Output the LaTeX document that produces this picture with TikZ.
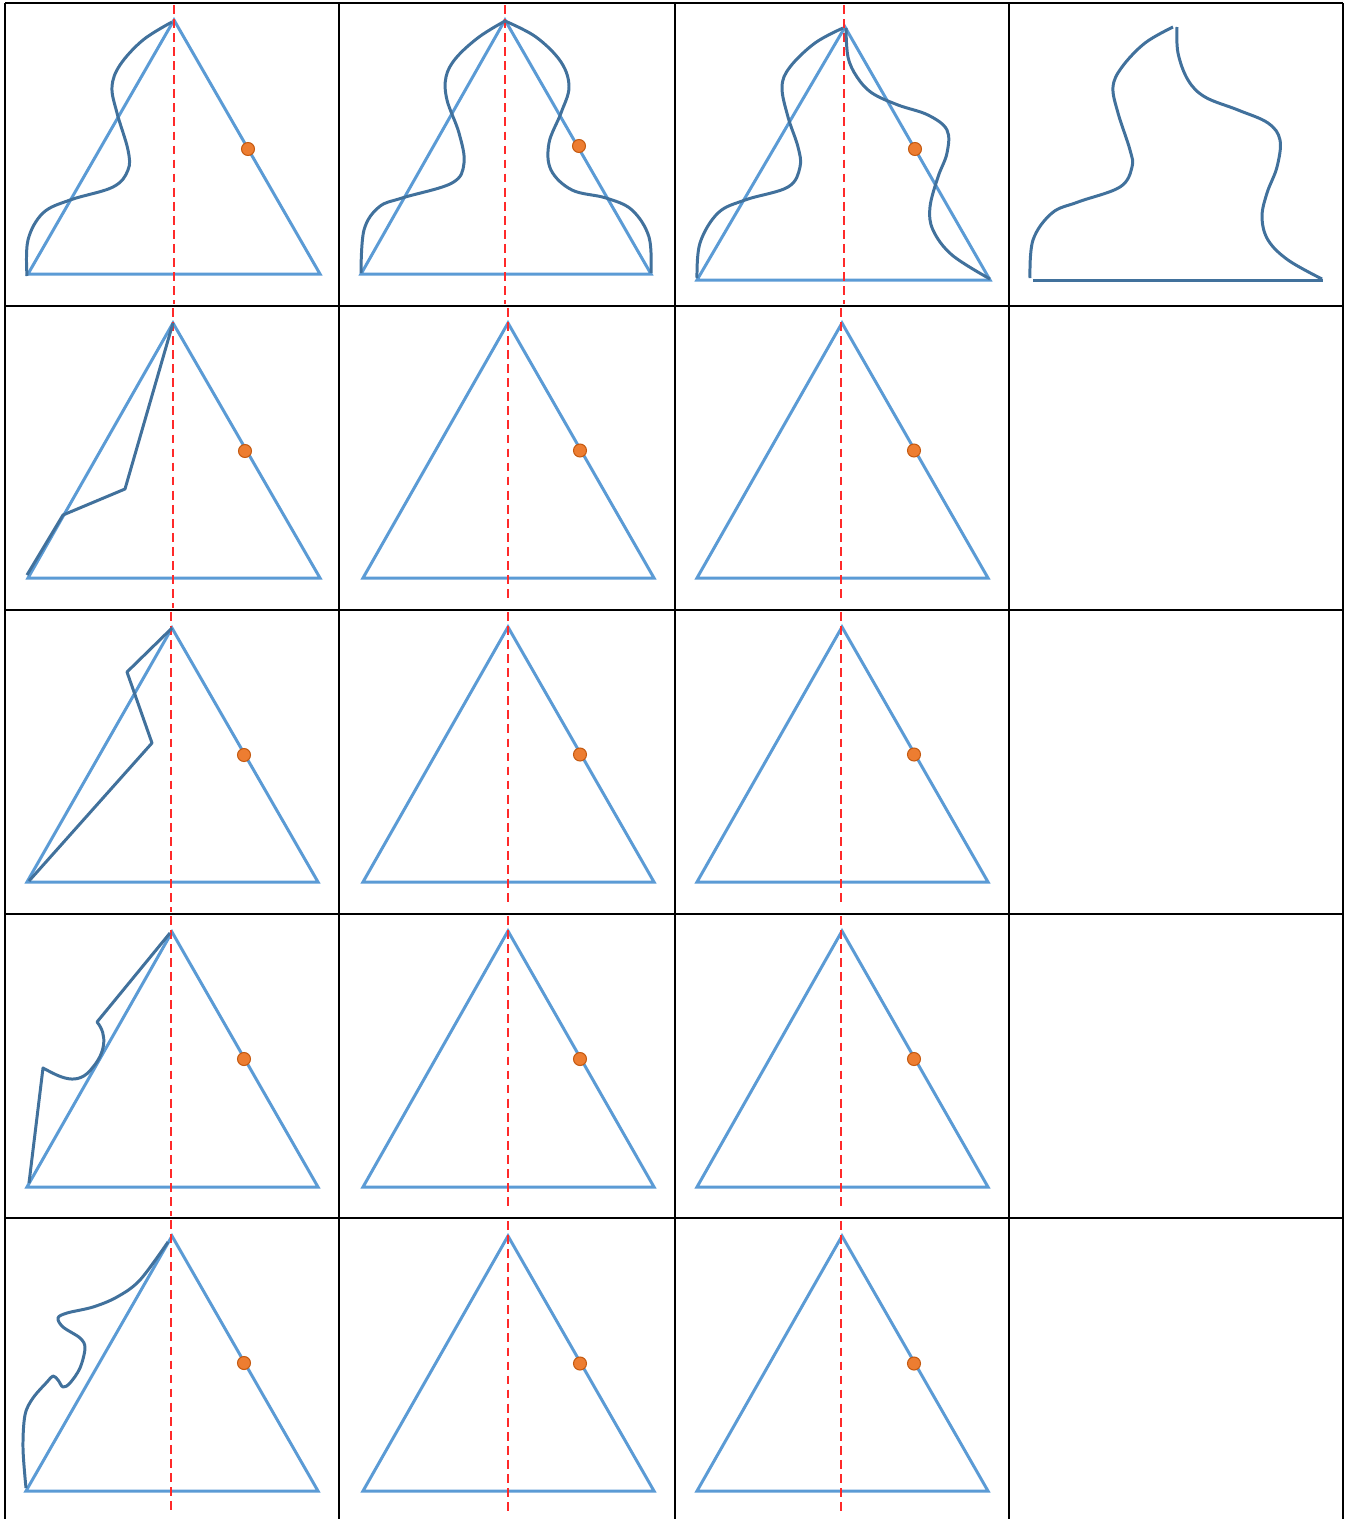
\documentclass[tikz,border=0pt]{standalone}
\usepackage{xcolor}
\usepackage{tikz}
\definecolor{trianglueblue}{HTML}{5B9BD5}
\definecolor{waveblue}{HTML}{41719C}
\definecolor{axisred}{HTML}{FF2A2A}
\definecolor{pinorange}{HTML}{ED7D31}
\definecolor{pinedge}{HTML}{C55A11}
\tikzset{
  gridline/.style={black, line width=1.5pt},
  tri/.style={trianglueblue, line width=1.7pt, line join=miter},
  wave/.style={waveblue, line width=1.7pt, line join=round},
  axis/.style={axisred, line width=1.6pt, dash pattern=on 5pt off 3pt},
  pin/.style={fill=pinorange, draw=pinedge, line width=0.6pt}
}

\begin{document}
\begin{tikzpicture}[x=0.02cm, y=-0.02cm]
  \useasboundingbox (0,0) rectangle (1348,1519);
  \fill[white] (0,0) rectangle (1348,1519);

  % table grid
  \foreach \gx in {5,339,675,1009,1343}
    \draw[gridline] (\gx,3) -- (\gx,1519);
  \foreach \gy in {3,306,610,914,1218}
    \draw[gridline] (5,\gy) -- (1343,\gy);

  % row 1
  \draw[tri] (174,20) -- (320,274) -- (28,274) -- cycle;
  \draw[axis] (174,5) -- (174,304);
  \filldraw[pin] (248,149) circle (6.5);
  \draw[wave] plot[smooth, tension=0.6] coordinates {(27,276) (28,240) (43,213) (70,200) (113,187) (128,170) (128,150) (117,113) (112,87) (120,65) (143,40) (172,22)};

  \draw[tri] (505,20) -- (651,274) -- (361,274) -- cycle;
  \draw[axis] (505,5) -- (505,304);
  \filldraw[pin] (579,146) circle (6.5);
  \draw[wave] plot[smooth, tension=0.6] coordinates {(361,273) (364,230) (379,207) (402,198) (452,183) (464,163) (459,133) (447,100) (446,77) (456,58) (479,37) (505,21)};
  \draw[wave] plot[smooth, tension=0.6] coordinates {(505,21) (536,37) (561,62) (569,87) (561,113) (549,143) (551,170) (572,190) (606,198) (632,210) (649,237) (651,273)};

  \draw[tri] (845,27) -- (990,280) -- (697,280) -- cycle;
  \draw[axis] (844,5) -- (844,304);
  \filldraw[pin] (915,149) circle (6.5);
  \draw[wave] plot[smooth, tension=0.6] coordinates {(697,278) (700,243) (718,213) (745,200) (788,187) (800,167) (798,147) (788,117) (782,87) (790,67) (815,43) (843,28)};
  \draw[wave] plot[smooth, tension=0.6] coordinates {(846,28) (848,57) (857,77) (872,93) (898,105) (928,115) (947,130) (947,153) (938,177) (930,207) (933,230) (952,255) (990,279)};

  \draw[wave] plot[smooth, tension=0.6] coordinates {(1030,278) (1033,240) (1052,213) (1078,202) (1120,187) (1132,167) (1130,150) (1118,113) (1113,87) (1122,67) (1145,43) (1173,27)};
  \draw[wave] plot[smooth, tension=0.6] coordinates {(1177,27) (1178,53) (1188,80) (1205,97) (1238,110) (1268,123) (1280,140) (1277,167) (1267,193) (1262,217) (1268,240) (1288,260) (1322,279)};
  \draw[wave] (1033,280) -- (1323,280);

  % rows 2 to 5, first column
  \draw[tri] (173,323) -- (320,578) -- (28,578) -- cycle;
  \draw[axis] (173,308) -- (173,608);
  \filldraw[pin] (245,451) circle (6.5);
  \draw[wave] (27,575) -- (63,515) -- (125,489) -- (173,323);

  \draw[tri] (172,628) -- (318,882) -- (27,882) -- cycle;
  \draw[axis] (171,612) -- (171,912);
  \filldraw[pin] (244,755) circle (6.5);
  \draw[wave] (29,881) -- (152,743) -- (127,672) -- (172,628);

  \draw[tri] (172,932) -- (318,1187) -- (27,1187) -- cycle;
  \draw[axis] (171,916) -- (171,1216);
  \filldraw[pin] (244,1059) circle (6.5);
  \draw[wave] (29,1183) -- (43,1068) .. controls (60,1077) and (78,1088) .. (93,1067)
    .. controls (105,1053) and (108,1035) .. (97,1022) -- (170,933);

  \draw[tri] (172,1236) -- (318,1491) -- (26,1491) -- cycle;
  \draw[axis] (171,1220) -- (171,1512);
  \filldraw[pin] (244,1363) circle (6.5);
  \draw[wave] plot[smooth, tension=0.55] coordinates {(26,1488) (23,1448) (25,1415) (33,1398) (47,1382) (53,1376) (58,1380) (63,1387) (70,1383) (80,1368) (85,1348) (80,1338) (63,1327) (58,1318) (67,1313) (93,1307) (117,1297) (140,1280) (168,1242)};

  % rows 2 to 5, plain triangles
  \foreach \top/\bot in {323/578, 627/882, 931/1187, 1236/1491} {
    \draw[tri] (508,\top) -- (654,\bot) -- (363,\bot) -- cycle;
    \draw[axis] (508,\top-15) -- (508,\bot+21);
    \filldraw[pin] (580,{(\top+\bot)/2}) circle (6.5);
    \draw[tri] (842,\top) -- (988,\bot) -- (697,\bot) -- cycle;
    \draw[axis] (841,\top-15) -- (841,\bot+21);
    \filldraw[pin] (914,{(\top+\bot)/2}) circle (6.5);
  }
\end{tikzpicture}
\end{document}
